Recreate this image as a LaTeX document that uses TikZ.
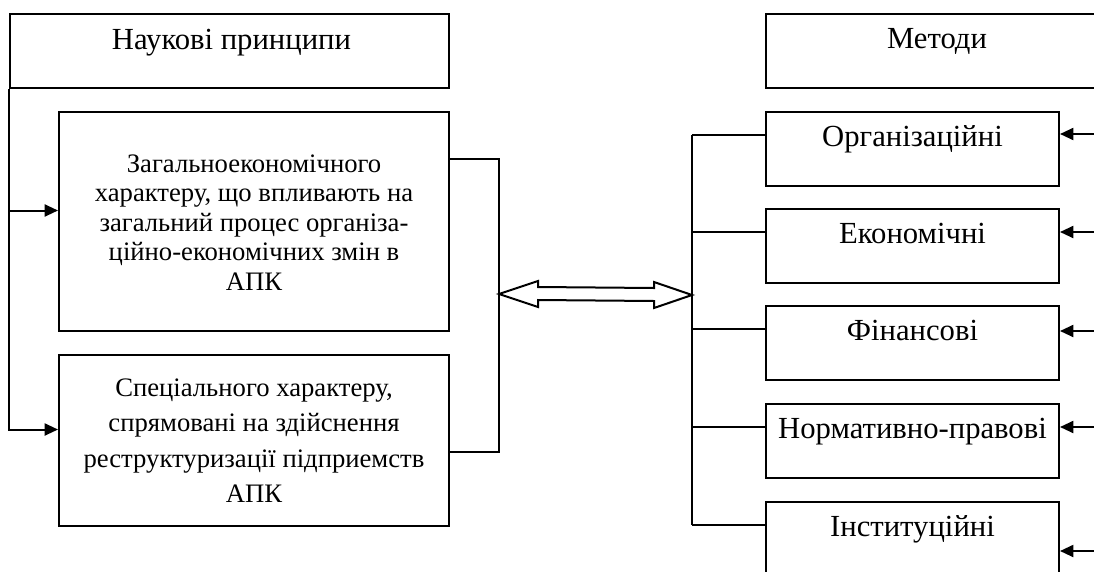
\documentclass[tikz,border=0pt]{standalone}
\usepackage{fontspec}
\setmainfont{Liberation Serif}
\usetikzlibrary{arrows.meta,calc,fit}
\begin{document}
\begin{tikzpicture}[x=0.75pt,y=-0.75pt,
  box/.style={draw=black,line width=1.5pt,rectangle,inner sep=0pt},
  conn/.style={line width=1.5pt},
  arr/.style={line width=1.5pt,-{Triangle[length=10pt,width=9pt]}},
  lbl/.style={font=\fontsize{23}{26}\selectfont,anchor=base,inner sep=0pt},
  dbl/.style={draw=black,line width=1.5pt,fill=white,line join=miter}]
\useasboundingbox (0,0) rectangle (1094,571);
\clip (0,0) rectangle (1094,571);

% left column
\node[box,fit={(10,14)(449,88)}] (np) {};
\node[lbl] (npt) at ($(np.north)+(2,36)$) {Наукові принципи};

\node[box,fit={(59,112)(449,331)}] (b1) {};
\node[align=center,inner sep=0pt,font=\fontsize{20}{22.1}\selectfont] (b1t) at ($(b1.center)+(0,1)$)
  {Загальноекономічного\\характеру, що впливають на\\загальний процес організа-\\ційно-економічних змін в\\АПК};

\node[box,fit={(59,355)(449,526)}] (b2) {};
\node[align=center,inner sep=0pt,font=\fontsize{20}{26.6}\selectfont] (b2t) at ($(b2.center)+(0,0)$)
  {Спеціального характеру,\\спрямовані на здійснення\\реструктуризації підприемств\\АПК};

\coordinate (a1) at ($(b1.west)+(0,-11)$);
\coordinate (a2) at ($(b2.west)+(0,-11)$);
\draw[arr] (np.south west) |- (a2);
\draw[arr] (np.south west |- a1) -- (a1);

\coordinate (r1) at ($(b1.north east)+(0,48)$);
\coordinate (r2) at ($(b2.north east)+(0,98)$);
\draw[conn] (r1) -- ++(49,0) |- (r2);

% right column
\node[box,fit={(766,14)(1108,88)}] (met) {};
\node[lbl] (mett) at ($(met.north)+(0,35)$) {Методи};

\foreach \n/\t/\y/\ay in {o/Організаційні/112/23, e/Економічні/209/24, f/Фінансові/306/26, n/Нормативно-правові/404/24, i/Інституційні/502/50}{
  \node[box,fit={(766,\y)(1059,\y+74)}] (\n) {};
  \node[lbl] (\n-t) at ($(\n.north)+(0,35)$) {\t};
  \coordinate (\n-l) at ($(\n.north west)+(0,24)$);
  \coordinate (\n-r) at ($(\n.north east)+(0,\ay)$);
  \draw[conn] ($(\n-l)+(-73,0)$) -- (\n-l);
  \draw[arr] ($(\n-r)+(40,0)$) -- (\n-r);
}
\draw[conn] ($(o-l)+(-73,0)$) -- ($(i-l)+(-73,0)$);

% double arrow between the two trunks
\coordinate (dl) at ($(r1)+(49,135)$);
\coordinate (dr) at ($(o-l)+(-73,160)$);
\draw[dbl] (dl) -- ($(dl)+(39,-13)$) -- ($(dl)+(39,-7)$) -- ($(dr)+(-38,-7)$) -- ($(dr)+(-38,-13)$)
  -- (dr) -- ($(dr)+(-38,13)$) -- ($(dr)+(-38,6)$) -- ($(dl)+(39,6)$) -- ($(dl)+(39,13)$) -- cycle;
\end{tikzpicture}
\end{document}
